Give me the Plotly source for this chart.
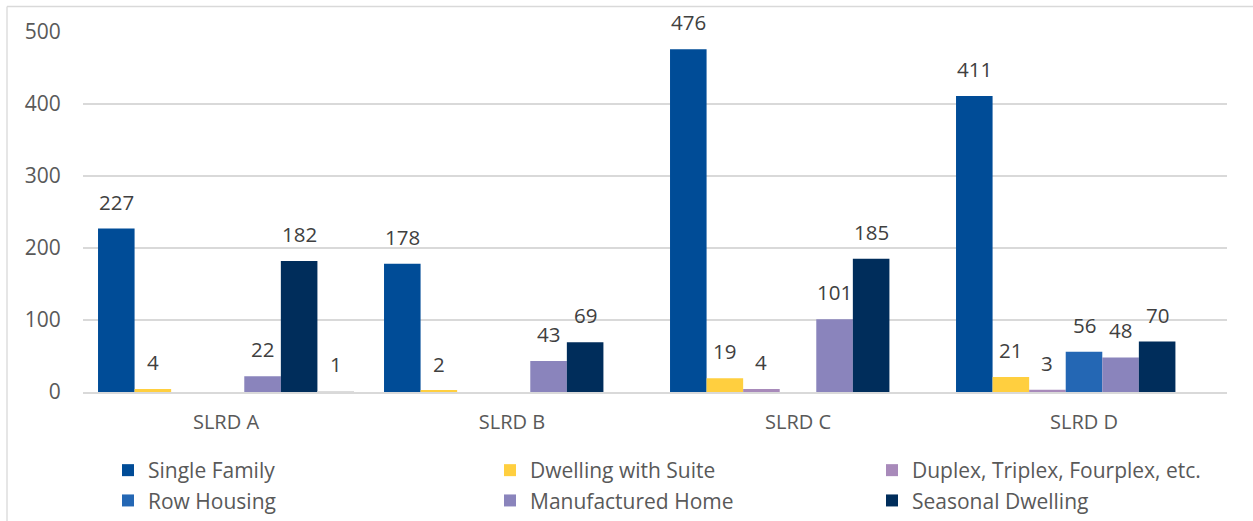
import plotly.graph_objects as go

# Dwelling counts by electoral area and dwelling type
areas = ["SLRD A", "SLRD B", "SLRD C", "SLRD D"]
single_family = [227, 178, 476, 411]
dwelling_with_suite = [4, 2, 19, 21]
duplex_plus = [None, None, 4, 3]
row_housing = [None, None, None, 56]
manufactured_home = [22, 43, 101, 48]
seasonal_dwelling = [182, 69, 185, 70]
other = [1, None, None, None]

series = [
    ("Single Family", single_family, "#004C97", True),
    ("Dwelling with Suite", dwelling_with_suite, "#FFCF3F", True),
    ("Duplex, Triplex, Fourplex, etc.", duplex_plus, "#A88ABA", True),
    ("Row Housing", row_housing, "#2467B4", True),
    ("Manufactured Home", manufactured_home, "#8A84BC", True),
    ("Seasonal Dwelling", seasonal_dwelling, "#002D5B", True),
    ("Other", other, "#DCDCDC", False),
]

W, H = 1253, 521
ML, MR, MT, MB = 83, 26, 32, 129
BARGAP = 0.105
n = len(series)
slot = (1 - BARGAP) / n

FONT = "Open Sans"
fig = go.Figure()
annotations = []
x_pos = list(range(len(areas)))
for k, (name, vals, color, show) in enumerate(series):
    fig.add_trace(go.Bar(
        x=x_pos, y=vals, name=name, marker_color=color,
        marker_line_width=0, showlegend=show,
    ))
    # value labels above each bar
    for i, v in enumerate(vals):
        if v is None:
            continue
        annotations.append(dict(
            x=i + (k - (n - 1) / 2) * slot, y=v, xref="x", yref="y",
            text=str(v), showarrow=False, yanchor="bottom", yshift=11,
            font=dict(family=FONT, size=20.5, color="#404040"),
        ))

pw = W - ML - MR
ph = H - MT - MB


def px_x(p):
    return (p - ML) / pw


def px_y(p):
    return (H - MB - p) / ph


# outer chart frame (top and left edges)
shapes = [
    dict(type="line", xref="paper", yref="paper", x0=px_x(7), x1=px_x(W + 5),
         y0=px_y(6.5), y1=px_y(6.5), line=dict(color="#D9D9D9", width=1.3)),
    dict(type="line", xref="paper", yref="paper", x0=px_x(7), x1=px_x(7),
         y0=px_y(6.5), y1=px_y(H + 5), line=dict(color="#D9D9D9", width=1.3)),
]

fig.update_layout(
    width=W, height=H,
    margin=dict(l=ML, r=MR, t=MT, b=MB, autoexpand=False),
    paper_bgcolor="white", plot_bgcolor="white",
    barmode="group", bargap=BARGAP, bargroupgap=0,
    font=dict(family=FONT, size=20, color="#595959"),
    annotations=annotations, shapes=shapes,
    legend=dict(
        orientation="h", x=px_x(108), xanchor="left", y=px_y(450), yanchor="top",
        entrywidth=337, entrywidthmode="pixels", traceorder="normal",
        font=dict(family=FONT, size=21, color="#595959"),
        bgcolor="rgba(0,0,0,0)",
    ),
    xaxis=dict(
        range=[-0.5, len(areas) - 0.5], tickvals=x_pos, ticktext=areas,
        showgrid=False, zeroline=False,
        showline=True, linecolor="#D9D9D9", linewidth=1.8,
        ticks="outside", ticklen=11, tickcolor="rgba(0,0,0,0)",
        tickfont=dict(family=FONT, size=20, color="#595959"),
    ),
    yaxis=dict(
        range=[0, 500], tickvals=[0, 100, 200, 300, 400, 500],
        showgrid=True, gridcolor="#D9D9D9", gridwidth=1.5,
        zeroline=False, showline=False,
        ticks="outside", ticklen=17, tickcolor="rgba(0,0,0,0)",
        tickfont=dict(family=FONT, size=21, color="#595959"),
    ),
)

fig.write_html("out.html")
